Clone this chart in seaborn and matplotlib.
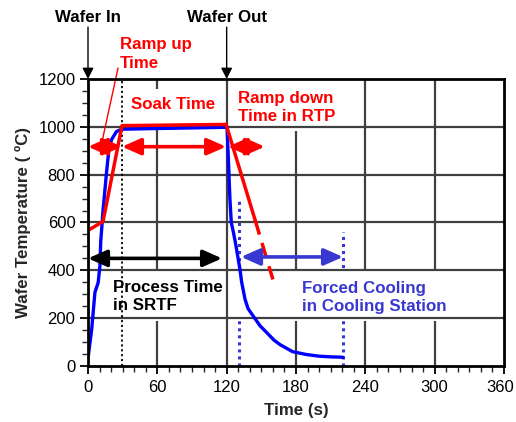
import matplotlib
matplotlib.use("Agg")
import matplotlib.pyplot as plt
import seaborn as sns
import pandas as pd
from matplotlib.patches import Rectangle
from matplotlib.ticker import MultipleLocator
from matplotlib.transforms import ScaledTranslation

# ---- data ----
meas_time = [0.3, 3.2, 6, 8.8, 10.3, 11, 11.8, 13, 16, 18, 20.3, 24.6, 29, 60, 119,
             120.3, 121.2, 122, 122.8, 124, 125.8, 127.4, 128.6, 131.5, 133, 135.9,
             138.5, 142.8, 148.9, 154.6, 161, 166, 177, 189, 200, 211, 219, 220.7]
meas_temp = [43, 154, 308, 349, 418, 520, 570, 650, 808, 900, 946, 980, 990, 993, 998,
             1000, 900, 800, 700, 600, 560, 520, 487, 404, 350, 279,
             240, 210, 168, 140, 108, 90, 60, 48, 41, 38, 37, 36]
recipe_time = [0, 13, 29.4, 119.5, 144.5]
recipe_temp = [567, 604, 1005, 1010, 612]
recipe_ext_time = [144.5, 160]
recipe_ext_temp = [612, 362]

x_ticks = [0, 60, 120, 180, 240, 300, 360]
y_ticks = [0, 200, 400, 600, 800, 1000, 1200]

sns.set_theme(style="white")
plt.rcParams['font.family'] = ['Liberation Sans', 'DejaVu Sans']

RED = '#ff0000'
BLUE = '#0000ff'
SBLUE = '#3838d0'
FS = 12.2
TFS = 12

fig = plt.figure(figsize=(5.16, 4.22), dpi=100)
ax = fig.add_axes([88/516, 1-366/422, (504-88)/516, (366-79)/422])
ax.set_xlim(0, 360)
ax.set_ylim(0, 1200)

# grid: vertical under the white label boxes, horizontal over them
for xv in x_ticks[1:-1]:
    ax.axvline(xv, color='#404040', lw=1.6, zorder=0.5)
for yv in y_ticks[1:-1]:
    ax.axhline(yv, color='#404040', lw=1.6, zorder=1.5)

# dotted markers
ax.axvline(29.4, color='black', lw=1.3, ls=(0, (1.2, 1.5)), zorder=3)
ax.plot([130.7, 130.7], [0, 690], color=SBLUE, lw=2.2, ls=(0, (1, 1.3)), zorder=0.8)
ax.plot([220.7, 220.7], [0, 560], color=SBLUE, lw=2.2, ls=(0, (1, 1.3)), zorder=0.8)

# white boxes behind labels
for (x0, x1, y0, y1) in [(32, 118, 1003, 1160), (124, 224, 982, 1200),
                         (32, 118, 187, 404), (128, 314, 187, 404)]:
    ax.add_patch(Rectangle((x0, y0), x1 - x0, y1 - y0, facecolor='white',
                           edgecolor='none', zorder=1))

# curves
df_meas = pd.DataFrame({'time': meas_time, 'temp': meas_temp})
df_rec = pd.DataFrame({'time': recipe_time, 'temp': recipe_temp})
df_ext = pd.DataFrame({'time': recipe_ext_time, 'temp': recipe_ext_temp})
sns.lineplot(data=df_meas, x='time', y='temp', color=BLUE, lw=2.4, ax=ax,
             estimator=None, sort=False, zorder=4)
sns.lineplot(data=df_rec, x='time', y='temp', color=RED, lw=2.5, ax=ax,
             estimator=None, sort=False, zorder=5)
sns.lineplot(data=df_ext, x='time', y='temp', color=RED, lw=2.5, ax=ax,
             estimator=None, sort=False, zorder=5, linestyle=(0, (4.5, 2.5)))

# double arrows
def darrow(x1, x2, y, color):
    ax.annotate('', xy=(x2, y), xytext=(x1, y),
                arrowprops=dict(arrowstyle='<|-|>,head_length=0.95,head_width=0.42',
                                color=color, lw=2.6, shrinkA=0, shrinkB=0),
                zorder=6)

darrow(0, 29.4, 917, RED)
darrow(29.4, 119.5, 917, RED)
darrow(121, 153, 917, RED)
darrow(0, 116, 450, 'black')
darrow(132.4, 220.7, 456, SBLUE)

# wafer in / out pointers
for xv, lab in [(0, 'Wafer In'), (120, 'Wafer Out')]:
    ax.annotate('', xy=(xv, 1200), xytext=(xv, 1417), xycoords='data',
                arrowprops=dict(arrowstyle='-|>,head_length=0.55,head_width=0.28',
                                color='black', lw=1.0, shrinkA=0, shrinkB=0),
                annotation_clip=False, zorder=7)
    ax.text(xv, 1458, lab, ha='center', va='center', fontsize=FS,
            fontweight='bold', color='black', clip_on=False)

# ramp-up pointer line
ax.plot([26, 12.1], [1246, 937], color=RED, lw=1.0, clip_on=False, zorder=6)

# labels
ax.text(27.7, 1375, 'Ramp up\nTime', ha='left', va='top', fontsize=FS,
        fontweight='bold', color=RED, linespacing=1.3, clip_on=False)
ax.text(37, 1092, 'Soak Time', ha='left', va='center', fontsize=FS,
        fontweight='bold', color=RED, zorder=7)
ax.text(129.8, 1079, 'Ramp down\nTime in RTP', ha='left', va='center', fontsize=FS,
        fontweight='bold', color=RED, linespacing=1.25, zorder=7)
ax.text(21.6, 290, 'Process Time\nin SRTF', ha='left', va='center', fontsize=FS,
        fontweight='bold', color='black', linespacing=1.25, zorder=2)
ax.text(185.2, 288, 'Forced Cooling\nin Cooling Station', ha='left', va='center',
        fontsize=FS, fontweight='bold', color=SBLUE, linespacing=1.25, zorder=7)

# axes styling
ax.set_xticks(x_ticks)
ax.set_yticks(y_ticks)
ax.xaxis.set_minor_locator(MultipleLocator(10))
ax.yaxis.set_minor_locator(MultipleLocator(50))
ax.tick_params(axis='both', which='major', direction='out', length=6, width=1.3,
               labelsize=TFS, colors='black', bottom=True, left=True)
ax.tick_params(axis='both', which='minor', direction='out', length=4, width=1.0,
               bottom=True, left=True)
ax.tick_params(axis='y', pad=3)
ax.tick_params(axis='x', pad=4)
for s in ax.spines.values():
    s.set_visible(True)
    s.set_color('black')
    s.set_linewidth(2.0)
    s.set_zorder(8)
ax.set_xlabel('Time (s)', fontsize=FS, fontweight='bold', labelpad=6)
ax.set_ylabel('Wafer Temperature ( ºC)', fontsize=FS, fontweight='bold', labelpad=5)
ax.set_facecolor('white')

# keep last x tick label inside the figure, as in the reference
last = ax.xaxis.get_major_ticks()[-1].label1
last.set_transform(last.get_transform() + ScaledTranslation(-3/72, 0, fig.dpi_scale_trans))

fig.savefig('out.png', dpi=100, facecolor='white')
